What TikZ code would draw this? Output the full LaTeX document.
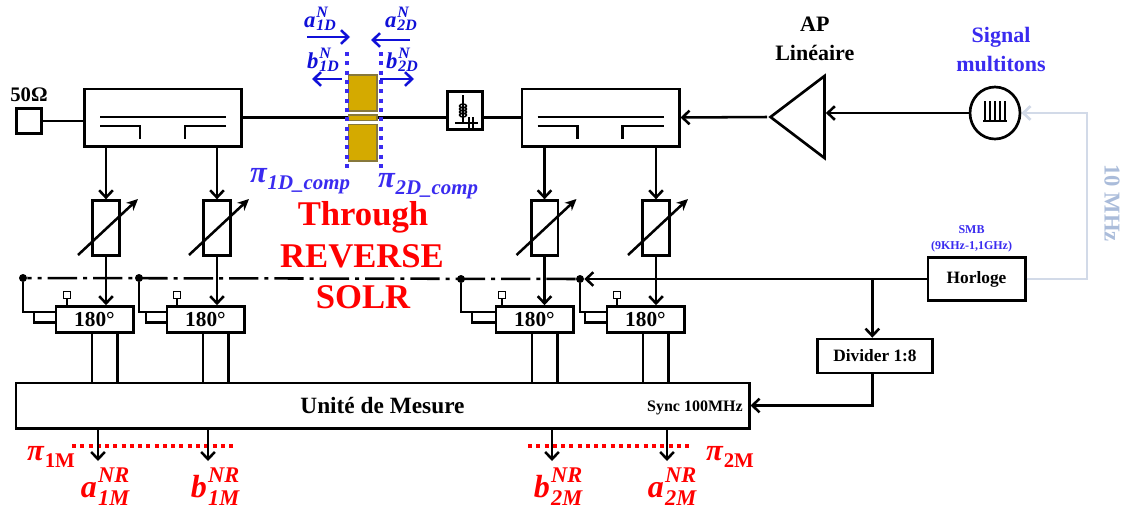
\documentclass[tikz,border=0pt]{standalone}
\usepackage{fontspec}
\setmainfont{Liberation Serif}
\usetikzlibrary{positioning,arrows.meta,shapes.geometric,calc}
\definecolor{sigblue}{RGB}{16,16,216}
\definecolor{planeblue}{RGB}{58,43,240}
\definecolor{goldfill}{RGB}{212,170,0}
\definecolor{goldline}{RGB}{135,120,60}
\definecolor{refline}{RGB}{210,218,232}
\definecolor{reftext}{RGB}{170,188,218}
\newcommand{\wrise}{.44em}
\newcommand{\wdrop}{.26em}
\newcommand{\wave}[3]{{\bfseries\itshape #1\kern.04em\makebox[0pt][l]{\raisebox{\wrise}{\scalebox{.7}{#2}}}\raisebox{-\wdrop}{\scalebox{.7}{#3}}}}
\newcommand{\plane}[1]{{\bfseries\itshape π\kern.03em\raisebox{-.24em}{\scalebox{.68}{#1}}}}
\tikzset{
  wire/.style   ={line width=2pt, draw=black},
  thinw/.style  ={line width=1.6pt, draw=black},
  flow/.style   ={-{Straight Barb[length=1.9mm,width=3.6mm]}, line width=1.9pt, draw=black},
  wavearr/.style={-{Straight Barb[length=1.9mm,width=3.6mm]}, line width=1.9pt, draw=sigblue},
  refarr/.style ={-{Straight Barb[length=1.9mm,width=3.6mm]}, line width=2pt, draw=refline},
  tune/.style   ={-{Stealth[length=3mm,width=2.8mm]}, line width=1.9pt, draw=black},
  coupler/.style={rectangle, wire, fill=white, minimum width=118pt, minimum height=43pt, inner sep=0pt},
  attn/.style   ={rectangle, wire, fill=white, minimum width=20pt, minimum height=41pt, inner sep=0pt},
  phase/.style  ={rectangle, wire, fill=white, minimum width=58pt, minimum height=19.5pt, inner sep=0pt,
                  font=\fontsize{16}{18}\selectfont\bfseries},
  block/.style  ={rectangle, wire, fill=white, inner sep=0pt, font=\bfseries},
  ctrl/.style   ={rectangle, draw=black, line width=1pt, fill=white, minimum size=5.5pt, inner sep=0pt},
  dotn/.style   ={circle, fill=black, minimum size=6pt, inner sep=0pt},
  gold/.style   ={rectangle, draw=goldline, line width=1pt, fill=goldfill, minimum width=21.5pt, inner sep=0pt},
  plane/.style  ={line width=3pt, draw=planeblue, dash pattern=on 3pt off 4pt},
  mplane/.style ={line width=3pt, draw=red, dash pattern=on 3pt off 3.2pt},
  title/.style  ={font=\fontsize{16.5}{20}\selectfont\bfseries, align=center, inner sep=0pt},
  bigred/.style ={font=\fontsize{26}{30}\selectfont\bfseries, text=red, inner sep=0pt},
  bluelab/.style={font=\fontsize{17}{22}\selectfont\def\wrise{.44em}\def\wdrop{.16em}, text=sigblue, inner sep=0pt, anchor=base},
  redlab/.style ={font=\fontsize{24}{26}\selectfont, text=red, inner sep=0pt, anchor=base},
  pilab/.style  ={font=\fontsize{23}{25}\selectfont, inner sep=0pt, anchor=base},
}
\begin{document}
\begin{tikzpicture}[x=0.75pt,y=-0.75pt]
\useasboundingbox (0,0) rectangle (1126,511);
\fill[white] (0,0) rectangle (1126,511);
% top line
\node[block, minimum size=19pt] (term) at (29,121) {};
\node[above=3.5pt of term, font=\fontsize{15.5}{18}\selectfont\bfseries, inner sep=0pt] (termlab) {50Ω};
\node[coupler] (cpl1) at (163,117.5) {};
\node[coupler] (cpl2) at (600.5,117.5) {};
\node[gold, minimum height=27pt] (goldt) at (362.5,93) {};
\node[gold, minimum height=4pt] (goldm) at (362.5,117.5) {};
\node[gold, minimum height=27.5pt] (goldb) at (362.5,142.5) {};
\node[block, minimum width=26pt, minimum height=28.5pt] (bias) at (465,110.5) {};
\node[isosceles triangle, isosceles triangle stretches, shape border rotate=180, wire, fill=white,
      minimum width=61.5pt, minimum height=40.5pt, inner sep=0pt, anchor=apex] (amp) at (767,117) {};
\node[ellipse, wire, fill=white, minimum width=37.5pt, minimum height=39pt, inner sep=0pt] (src) at (995,113) {};
\node[title, above=21pt of amp, xshift=8pt] (amplab) {AP\\[2pt]Linéaire};
\node[title, text=planeblue, above=10pt of src, xshift=4.5pt] (srclab) {Signal\\[2pt]multitons};
\draw[wire] (term) -- (term -| cpl1.west);
\draw[wire] (cpl1.east) -- (goldm.west);
\draw[thinw] (goldm.east) -- (goldm.east -| bias.west);
\draw[wire] (bias.east |- cpl2) -- (cpl2.west);
\draw[flow] (amp.apex) -- (cpl2.east);
\draw[flow] (src.west) -- (src.west -| amp.east);
% coupler lines
\foreach \c in {cpl1,cpl2} {
  \draw[thinw] ([shift={(-63,-0.5)}]\c.center) -- ++(126,0);
  \draw[thinw] ([shift={(-63,8.5)}]\c.center) -- ++(40,0) -- ++(0,13);
  \draw[thinw] ([shift={(63,8.5)}]\c.center) -- ++(-41,0) -- ++(0,13);
}
% bias tee
\draw[line width=1.2pt] (bias.north) ++(-2,5) -- ++(0,27);
\foreach \y in {106,109,112,115} \draw[line width=1.1pt] (463,\y) circle[x radius=3.5,y radius=2];
\draw[line width=1.6pt] (455,123) -- (478,123);
\draw[line width=1.3pt] (469,117) -- (469,129) (473,117) -- (473,129);
% comb
\draw[line width=1pt] ($(src.center)+(-12,8)$) -- ++(24,0);
\foreach \x in {-10,-5,0,5,10} \draw[line width=0.9pt] ($(src.center)+(\x,8)$) -- ++(0,-20);
% planes
\draw[plane] (347,52) -- (347,168);
\draw[plane] (381,52) -- (381,168);
\coordinate (a1s) at (307,37); \coordinate (a1e) at (350,37);
\coordinate (a2s) at (410,40); \coordinate (a2e) at (371,40);
\coordinate (b1s) at (342,79); \coordinate (b1e) at (312,79);
\coordinate (b2s) at (380,79); \coordinate (b2e) at (414,79);
\foreach \s/\e in {a1s/a1e,a2s/a2e,b1s/b1e,b2s/b2e} \draw[wavearr] (\s) -- (\e);
\node[bluelab] (a1lab) at (320,27) {\wave{a}{N}{1D}};
\node[bluelab] (a2lab) at (401,27) {\wave{a}{N}{2D}};
\node[bluelab] (b1lab) at (323,68) {\wave{b}{N}{1D}};
\node[bluelab] (b2lab) at (402,68) {\wave{b}{N}{2D}};
\node[pilab, text=planeblue] (pi1) at (300,182) {\plane{1D\_comp}};
\node[pilab, text=planeblue] (pi2) at (428,187) {\plane{2D\_comp}};
\node[bigred] (thru) at (363,217) {Through};
\node[bigred] (rev) at (362,256) {REVERSE};
\node[bigred] (solr) at (363,297) {SOLR};
% branches
\node[block, minimum width=73pt, minimum height=32pt, font=\fontsize{13}{15}\selectfont\bfseries] (clk) at (976.5,279) {Horloge};
\node[block, minimum width=86pt, minimum height=25.5pt, font=\fontsize{13}{15}\selectfont\bfseries] (div) at (875,356) {Divider 1:8};
\node[block, minimum width=550pt, minimum height=34pt, font=\fontsize{17.5}{20}\selectfont\bfseries] (meas) at (382.5,405.5) {Unité de Mesure};
\node[font=\fontsize{12}{13}\selectfont\bfseries, inner sep=0pt, anchor=east] (sync) at (743,408) {Sync 100MHz};
\node[above=3pt of clk, xshift=-3.75pt, font=\fontsize{9}{12}\selectfont\bfseries, text=planeblue, align=center, inner sep=0pt] (clklab) {SMB\\(9KHz-1,1GHz)};
\foreach \n/\x/\p/\k/\d/\s/\y in {1/106/94.5/67/23/34/278,2/217/205.5/177/139/146/278,3/544.5/534.5/502/461/472/279,4/656/645.5/617/580/585/279} {
  \node[attn] (att\n) at (\x,228) {};
  \node[phase] (ph\n) at (\p,319.5) {180°};
  \node[ctrl] (sw\n) at (\k,295) {};
  \node[dotn] (dot\n) at (\d,\y) {};
  \draw[flow] (att\n |- cpl1.south) -- (att\n);
  \draw[flow] (att\n) -- (att\n |- ph\n.north);
  \draw[tune] ([shift={(-28,27)}]att\n.center) -- ([shift={(32,-29)}]att\n.center);
  \draw[thinw] (sw\n) -- (sw\n |- ph\n.north);
  \draw[wire] (dot\n) |- ([yshift=5.6pt]ph\n.west);
  \draw[wire] (\s,312) |- ([yshift=-2pt]ph\n.west);
  \draw[wire] ([xshift=-1.9pt]ph\n.south) -- ([xshift=-1.9pt]ph\n.south |- meas.north);
  \draw[wire] ([xshift=17.25pt]ph\n.south) -- ([xshift=17.25pt]ph\n.south |- meas.north);
}
% clock
\draw[line width=1.9pt, dash pattern=on 22pt off 4.5pt on 3pt off 4.5pt] (dot4) -- (dot1);
\draw[flow] (clk.west) -- (dot4);
\coordinate (divtap) at (clk.west -| div);
\draw[flow] ([xshift=-2pt]divtap) -- ([xshift=-2pt]div.north);
\draw[flow] ([xshift=-2pt]div.south) |- (meas.east);
\coordinate (refcorner) at (1087,279);
\draw[refarr] (clk.east) -- (refcorner) |- (src.east);
\node[rotate=-90, font=\fontsize{17}{20}\selectfont\bfseries, text=reftext, inner sep=0pt] (reflab) at (1112,203) {10 MHz};
% outputs
\draw[mplane] (72,446) -- (234,446);
\draw[mplane] (528,446) -- (689,446);
\foreach \n/\x in {1/98,2/208,3/552,4/667} {
  \coordinate (out\n) at (\x,461);
  \draw[flow] (meas.south -| out\n) -- (out\n);
}
\node[pilab, text=red] (pim1) at (51,460) {\plane{\upshape 1M}};
\node[pilab, text=red] (pim2) at (730,460) {\plane{\upshape 2M}};
\node[redlab] (am1) at (105,497) {\wave{a}{NR}{1M}};
\node[redlab] (bm1) at (215,497) {\wave{b}{NR}{1M}};
\node[redlab] (bm2) at (558,497) {\wave{b}{NR}{2M}};
\node[redlab] (am2) at (672,497) {\wave{a}{NR}{2M}};
\end{tikzpicture}
\end{document}
